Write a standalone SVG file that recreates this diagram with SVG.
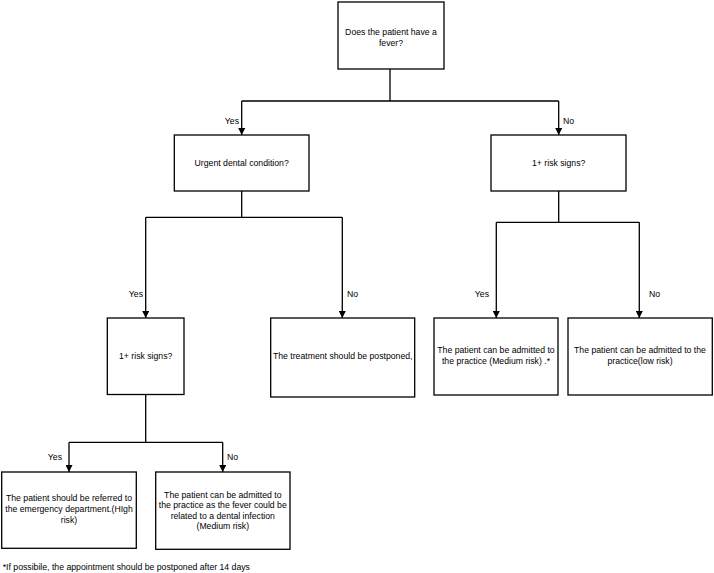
<svg xmlns="http://www.w3.org/2000/svg" width="714" height="573" viewBox="0 0 714 573">
<style>
.box{fill:#fff;stroke:#000;stroke-width:1.3}
.ln{fill:none;stroke:#000;stroke-width:1.3}
text{font-family:"Liberation Sans",Arial,sans-serif;font-size:8.7px;fill:#000}
.c{text-anchor:middle}
.e{text-anchor:end}
</style>
<defs>
<marker id="arr" viewBox="0 0 10 10" refX="10" refY="5" markerWidth="7" markerHeight="7" markerUnits="userSpaceOnUse" orient="auto">
<path d="M0,0 L10,5 L0,10 z" fill="#000"/>
</marker>
</defs>
<rect width="714" height="573" fill="#fff"/>
<g id="connectors">
<path class="ln" d="M390,69 V101 M241.7,101 H558.7"/>
<path class="ln" d="M241.7,101 V135" marker-end="url(#arr)"/>
<path class="ln" d="M558.7,101 V135" marker-end="url(#arr)"/>
<path class="ln" d="M241.7,191 V217.3 M145.7,217.3 H342.3"/>
<path class="ln" d="M145.7,217.3 V318" marker-end="url(#arr)"/>
<path class="ln" d="M342.3,217.3 V318" marker-end="url(#arr)"/>
<path class="ln" d="M558.7,191 V222.3 M496.3,222.3 H639.3"/>
<path class="ln" d="M496.3,222.3 V318" marker-end="url(#arr)"/>
<path class="ln" d="M639.3,222.3 V318" marker-end="url(#arr)"/>
<path class="ln" d="M145.7,394.5 V442.3 M69,442.3 H222.7"/>
<path class="ln" d="M69,442.3 V472" marker-end="url(#arr)"/>
<path class="ln" d="M222.7,442.3 V472" marker-end="url(#arr)"/>
<text class="e" x="239" y="124">Yes</text>
<text x="563" y="124">No</text>
<text class="e" x="143" y="297">Yes</text>
<text x="347" y="297">No</text>
<text class="e" x="489" y="297">Yes</text>
<text x="649" y="297">No</text>
<text class="e" x="62" y="460">Yes</text>
<text x="227" y="460">No</text>
</g>
<g id="n-fever">
<rect class="box" x="338" y="2" width="106" height="67"/>
<text class="c" x="391" y="34.5">Does the patient have a</text>
<text class="c" x="391" y="45.5">fever?</text>
</g>
<g id="n-urgent">
<rect class="box" x="174.3" y="135" width="134.7" height="56"/>
<text class="c" x="241.7" y="166">Urgent dental condition?</text>
</g>
<g id="n-risk-right">
<rect class="box" x="491" y="135" width="135" height="56"/>
<text class="c" x="558.7" y="166">1+ risk signs?</text>
</g>
<g id="n-risk-left">
<rect class="box" x="107.3" y="318" width="76.7" height="76.5"/>
<text class="c" x="145.7" y="359">1+ risk signs?</text>
</g>
<g id="n-postpone">
<rect class="box" x="270.7" y="318" width="144" height="79"/>
<text class="c" x="342.7" y="359">The treatment should be postponed,</text>
</g>
<g id="n-medium">
<rect class="box" x="434" y="318" width="124" height="77"/>
<text class="c" x="496" y="352.5">The patient can be admitted to</text>
<text class="c" x="496" y="364">the practice (Medium risk) .*</text>
</g>
<g id="n-low">
<rect class="box" x="568" y="318" width="144.3" height="77"/>
<text class="c" x="640" y="352.5">The patient can be admitted to the</text>
<text class="c" x="640" y="364">practice(low risk)</text>
</g>
<g id="n-high">
<rect class="box" x="1.7" y="472" width="134.6" height="76.3"/>
<text class="c" x="69" y="501">The patient should be referred to</text>
<text class="c" x="69" y="512">the emergency department.(HIgh</text>
<text class="c" x="69" y="523">risk)</text>
</g>
<g id="n-dental">
<rect class="box" x="155.7" y="472" width="134.3" height="77.3"/>
<text class="c" x="222.8" y="497.5">The patient can be admitted to</text>
<text class="c" x="222.8" y="508.3">the practice as the fever could be</text>
<text class="c" x="222.8" y="518.7">related to a dental infection</text>
<text class="c" x="222.8" y="529">(Medium risk)</text>
</g>
<text x="2.7" y="570">*If possibile, the appointment should be postponed after 14 days</text>
</svg>
